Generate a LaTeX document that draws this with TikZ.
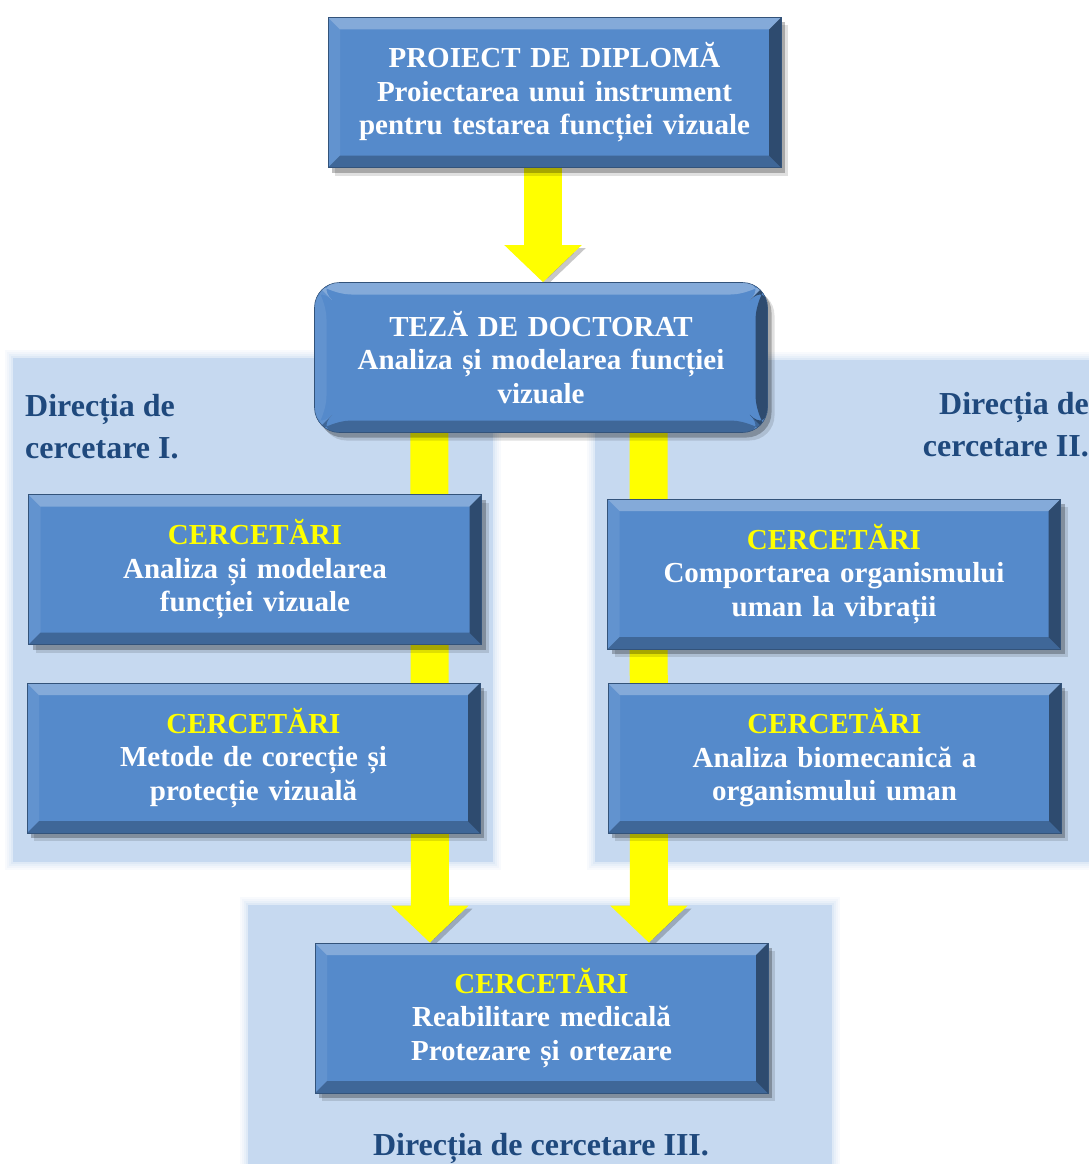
\documentclass[tikz,border=0pt]{standalone}
\usepackage{fontspec}
\setmainfont{Liberation Serif}
\usetikzlibrary{positioning,calc,arrows.meta,shadows}

\definecolor{boxblue}{RGB}{85,138,203}
\definecolor{panelblue}{RGB}{198,217,240}
\definecolor{headblue}{RGB}{31,73,125}
\definecolor{arrowyellow}{RGB}{255,255,0}

\pgfdeclarelayer{background}
\pgfsetlayers{background,main}

\tikzset{
  bevel/.style={path picture={
    \fill[white,opacity=.28] (path picture bounding box.north west) -- (path picture bounding box.north east) -- ([shift={(-12pt,-12pt)}]path picture bounding box.north east) -- ([shift={(12pt,-12pt)}]path picture bounding box.north west) -- cycle;
    \fill[white,opacity=.08] (path picture bounding box.north west) -- ([shift={(12pt,-12pt)}]path picture bounding box.north west) -- ([shift={(12pt,12pt)}]path picture bounding box.south west) -- (path picture bounding box.south west) -- cycle;
    \fill[black,opacity=.45] (path picture bounding box.north east) -- (path picture bounding box.south east) -- ([shift={(-12pt,12pt)}]path picture bounding box.south east) -- ([shift={(-12pt,-12pt)}]path picture bounding box.north east) -- cycle;
    \fill[black,opacity=.25] (path picture bounding box.south west) -- ([shift={(12pt,12pt)}]path picture bounding box.south west) -- ([shift={(-12pt,12pt)}]path picture bounding box.south east) -- (path picture bounding box.south east) -- cycle;
  }},
  box/.style={rectangle,fill=boxblue,draw=boxblue!60!black,line width=.6pt,
    minimum width=453pt,minimum height=150pt,text width=436pt,align=center,
    text=white,font=\fontsize{29}{33.5}\selectfont\bfseries,bevel,
    drop shadow={shadow xshift=7pt,shadow yshift=-8pt,opacity=.12,fill=black},
    drop shadow={shadow xshift=4pt,shadow yshift=-5pt,opacity=.25,fill=black}},
  heading/.style={inner sep=0pt,text=headblue,font=\fontsize{32}{42.5}\selectfont\bfseries},
  panel/.style={fill=panelblue},
  bigarrow/.style={line width=38pt,draw=arrowyellow,-{Triangle[width=75pt,length=37pt]},
    preaction={draw=black,opacity=.22,transform canvas={xshift=4pt,yshift=-3pt}}}
}

\newcommand{\cerc}{\textcolor{arrowyellow}{CERCETĂRI}}

\begin{document}
\begin{tikzpicture}[x=1pt,y=1pt]
\useasboundingbox (0,0) rectangle (1089,-1164);
\node [box] (Proiect) at (554.5,-92.5) {PROIECT DE DIPLOMĂ\\Proiectarea unui instrument\\pentru testarea funcției vizuale};
\node [box,rounded corners=25pt] (Teza) at (541,-357.5) {TEZĂ DE DOCTORAT\\Analiza și modelarea funcției\\vizuale};
\node [box] (Vizual) at (255,-569.5) {\cerc\\Analiza și modelarea\\funcției vizuale};
\node [box] (Corectie) at (253.5,-758) {\cerc\\Metode de corecție și\\protecție vizuală};
\node [box] (Vibratii) at (834,-574) {\cerc\\Comportarea organismului\\uman la vibrații};
\node [box] (Biomec) at (834.5,-758) {\cerc\\Analiza biomecanică a\\organismului uman};
\node [box] (Reabil) at (541.5,-1018) {\cerc\\Reabilitare medicală\\Protezare și ortezare};
\node [heading,anchor=north west,align=left] (DirectiaI) at (25,-394) {Direcția de\\cercetare I.};
\node [heading,anchor=north east,align=right] (DirectiaII) at (1089,-392) {Direcția de\\cercetare II.};
\node [heading,anchor=base] (DirectiaIII) at (541,-1155) {Direcția de cercetare III.};
\begin{pgfonlayer}{background}
% fundaluri
\foreach \d/\o in {8/.12,6/.15,4/.2,2/.3,0/1} {
  \fill[panel,opacity=\o] (13-\d,-358+\d) rectangle (493+\d,-862-\d);
  \fill[panel,opacity=\o] (595-\d,-360+\d) rectangle (1100,-862-\d);
  \fill[panel,opacity=\o] (248-\d,-905+\d) rectangle (832+\d,-1170);
}
% sageti
\draw [bigarrow] ([xshift=2pt]Proiect.south -| Teza.north) -- ([xshift=2pt]Teza.north);
\draw [bigarrow] ($(Teza.south west)!.254!(Teza.south east)$) -- ($(Reabil.north west)!.254!(Reabil.north east)$);
\draw [bigarrow] ($(Teza.south west)!.737!(Teza.south east)$) -- ($(Reabil.north west)!.737!(Reabil.north east)$);
\end{pgfonlayer}
\end{tikzpicture}
\end{document}
